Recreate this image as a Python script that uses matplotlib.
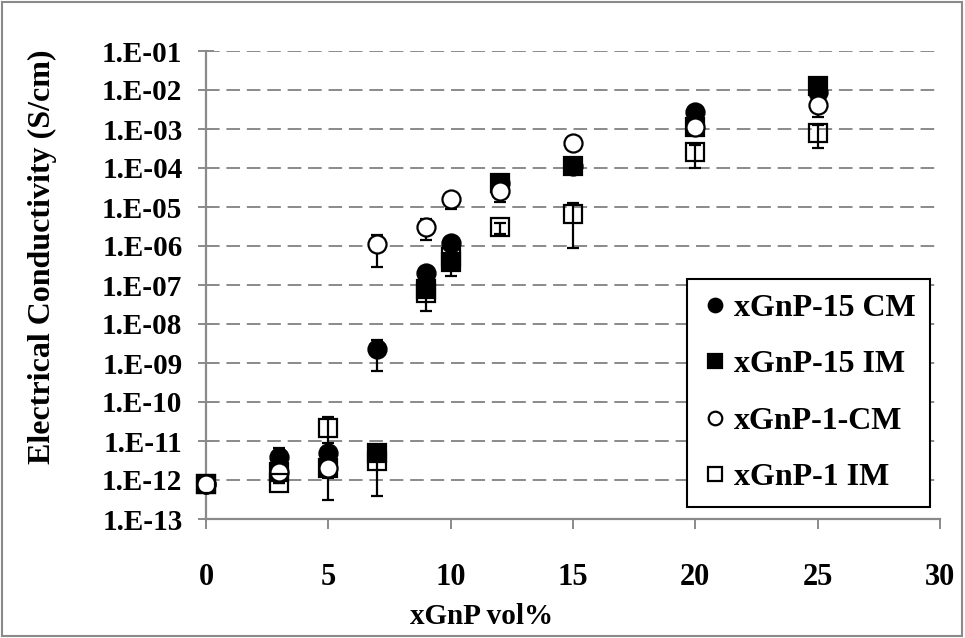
import matplotlib
matplotlib.use("Agg")
import matplotlib.pyplot as plt
from matplotlib.patches import Rectangle
from matplotlib.ticker import FixedLocator, NullLocator

# data
vol = [0, 3, 5, 7, 9, 10, 12, 15, 20, 25]

cm15 = [8e-13, 4e-12, 5e-12, 2.3e-9, 2e-7, 1.2e-6, 4.2e-5, 1.1e-4, 2.8e-3, 9e-3]
cm15_err = [0, 2.6e-12, 3.9e-12, 1.67e-9, 0, 0, 0, 0, 0, 0]

im15 = [8e-13, 1.6e-12, 2e-12, 5e-12, 8e-8, 4e-7, 4.2e-5, 1.1e-4, 1.1e-3, 1.3e-2]
im15_err = [0, 0, 0, 0, 0, 0, 0, 0, 0, 0]

cm1 = [8e-13, 1.6e-12, 2e-12, 1.1e-6, 3.1e-6, 1.6e-5, 2.6e-5, 4.4e-4, 1.1e-3, 4.2e-3]
cm1_err = [0, 0, 0, 8.1e-7, 1.7e-6, 7e-6, 1.25e-5, 0, 0, 2.2e-3]

im1 = [8e-13, 8.5e-13, 2.1e-11, 3.1e-12, 6.3e-8, 5.2e-7, 3e-6, 6.6e-6, 2.5e-4, 7.9e-4]
im1_err = [0, 0, 2.07e-11, 2.7e-12, 4.2e-8, 3.5e-7, 1e-6, 5.7e-6, 1.5e-4, 4.6e-4]

labels = ["xGnP-15 CM", "xGnP-15 IM", "xGnP-1-CM", "xGnP-1 IM"]
yticks = [10.0 ** -k for k in range(13, 0, -1)]
ytick_labels = ["1.E-%02d" % k for k in range(13, 0, -1)]

plt.rcParams['font.family'] = ['Liberation Serif', 'DejaVu Serif']
plt.rcParams['font.weight'] = 'bold'

GREY = "#8a8a8a"

def main():
	fig = plt.figure(figsize=(9.65, 6.38), dpi=100)
	ax = fig.add_axes([206 / 965, 1 - 519 / 638, 734 / 965, 468 / 638])

	series = [
		(cm15, cm15_err, "o", "black", "black"),
		(im15, im15_err, "s", "black", "black"),
		(cm1, cm1_err, "o", "white", "black"),
		(im1, im1_err, "s", "none", "black"),
	]
	handles = []
	for (vals, err, mk, fc, ec), lab in zip(series, labels):
		ms = 13 if mk == "o" else 12.5
		cont = ax.errorbar(vol, vals, yerr=err, fmt=mk, ms=ms, mfc=fc, mec=ec, mew=1.6,
		                   ecolor="black", elinewidth=1.6, capsize=4.5, capthick=1.6,
		                   label=lab, zorder=3)
		for art in [cont[0]] + list(cont[1]) + list(cont[2]):
			art.set_clip_on(False)
		handles.append(cont[0])

	ax.set_yscale("log")
	ax.set_ylim(1e-13, 1e-1)
	ax.set_xlim(0, 30)
	ax.set_xticks(range(0, 31, 5))
	ax.yaxis.set_major_locator(FixedLocator(yticks))
	ax.yaxis.set_minor_locator(NullLocator())
	ax.set_yticklabels(ytick_labels)

	ax.grid(axis="y", color=GREY, linestyle=(0, (7, 3.5)), linewidth=1.4, zorder=0)
	ax.set_axisbelow(True)
	for s in ["top", "right"]:
		ax.spines[s].set_visible(False)
	for s in ["left", "bottom"]:
		ax.spines[s].set_color(GREY)
		ax.spines[s].set_linewidth(1.6)

	ax.tick_params(axis="x", direction="out", length=7, width=1.4, color=GREY,
	               pad=25, labelsize=22)
	ax.tick_params(axis="y", direction="inout", length=12, width=1.4, color=GREY,
	               pad=11, labelsize=21)

	ax.set_xlabel("xGnP vol%", fontsize=21, fontweight="bold", va="center")
	ax.xaxis.set_label_coords(0.376, -0.209)
	ax.set_ylabel("Electrical Conductivity (S/cm)", fontsize=23, fontweight="bold", va="center")
	ax.yaxis.set_label_coords(-0.223, 0.56)

	leg = ax.legend(handles, labels, loc="lower right", bbox_to_anchor=(0.986, 0.026),
	                borderaxespad=0, fontsize=23, markerscale=0.75, handletextpad=0.2,
	                handlelength=0.8, labelspacing=0.85, borderpad=0.45, fancybox=False,
	                framealpha=1, edgecolor="black")
	leg.get_frame().set_linewidth(1.5)

	fig.add_artist(Rectangle((0.002, 0.003), 0.995, 0.994, transform=fig.transFigure,
	                         fill=False, edgecolor=GREY, linewidth=1.5))

	fig.savefig("out.png", dpi=100)

if __name__ == "__main__":
	main()
